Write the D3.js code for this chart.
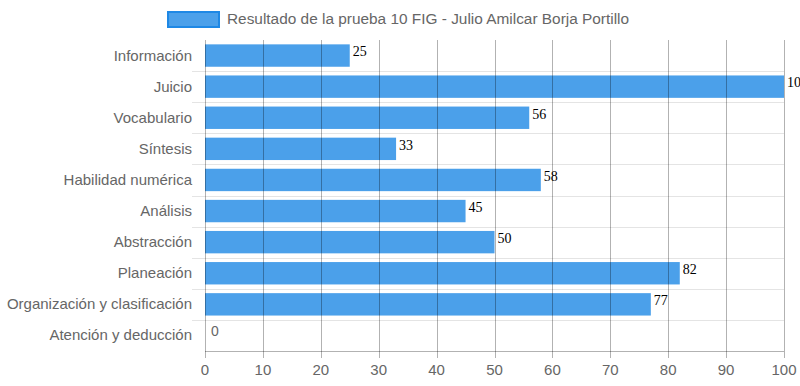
<!DOCTYPE html>
<html>
<head>
<meta charset="utf-8">
<script src="https://cdn.jsdelivr.net/npm/d3@7"></script>
<style>
  body { margin: 0; background: #fff; }
  svg { display: block; font-family: "Liberation Sans", Arial, sans-serif; }
</style>
</head>
<body>
<svg id="chart" width="800" height="386"></svg>
<script>
// datos de la prueba
const categorias = ["Información", "Juicio", "Vocabulario", "Síntesis", "Habilidad numérica",
  "Análisis", "Abstracción", "Planeación", "Organización y clasificación", "Atención y deducción"];
const valores = [25, 100, 56, 33, 58, 45, 50, 82, 77, 0];
const ticksX = [0, 10, 20, 30, 40, 50, 60, 70, 80, 90, 100];
const serie = "Resultado de la prueba 10 FIG - Julio Amilcar Borja Portillo";

const svg = d3.select("#chart");
const mIzq = 205, mDer = 784, mSup = 40, mInf = 351;

const x = d3.scaleLinear().domain([0, 100]).range([mIzq, mDer]);
const y = d3.scaleBand().domain(categorias).range([mSup, mInf]).padding(0);
const step = y.step();

// lineas horizontales entre categorias
svg.append("g").selectAll("line")
  .data(categorias.slice(1))
  .join("line")
  .attr("x1", mIzq - 13).attr("x2", mDer)
  .attr("y1", d => Math.round(y(d)) + 0.5).attr("y2", d => Math.round(y(d)) + 0.5)
  .attr("stroke", "#e4e4e4").attr("stroke-width", 1);

// barras
svg.append("g").selectAll("rect")
  .data(valores)
  .join("rect")
  .attr("x", x(0))
  .attr("y", (d, i) => y(categorias[i]) + step * 0.14)
  .attr("width", d => x(d) - x(0))
  .attr("height", step * 0.72)
  .attr("fill", "rgba(30,136,229,0.8)");

// lineas verticales (encima de las barras, se ven a traves)
svg.append("g").selectAll("line")
  .data(ticksX)
  .join("line")
  .attr("x1", d => Math.round(x(d)) + 0.5).attr("x2", d => Math.round(x(d)) + 0.5)
  .attr("y1", mSup).attr("y2", mInf + 7)
  .attr("stroke", "rgba(0,0,0,0.3)").attr("stroke-width", 1);

// eje inferior
svg.append("line")
  .attr("x1", mIzq).attr("x2", mDer)
  .attr("y1", mInf + 0.5).attr("y2", mInf + 0.5)
  .attr("stroke", "rgba(0,0,0,0.3)");

// etiquetas eje x
svg.append("g").selectAll("text")
  .data(ticksX)
  .join("text")
  .attr("x", d => x(d))
  .attr("y", 375)
  .attr("text-anchor", "middle")
  .attr("font-size", 15)
  .attr("fill", "#666")
  .text(d => d);

// etiquetas eje y
svg.append("g").selectAll("text")
  .data(categorias)
  .join("text")
  .attr("x", mIzq - 13)
  .attr("y", d => y(d) + step / 2 + 5)
  .attr("text-anchor", "end")
  .attr("font-size", 15)
  .attr("fill", "#666")
  .text(d => d);

// valores al final de cada barra
svg.append("g").selectAll("text")
  .data(valores)
  .join("text")
  .attr("x", d => x(d) + 3)
  .attr("y", (d, i) => y(categorias[i]) + step * 0.14 + 12)
  .attr("font-family", d => d === 0 ? "Liberation Sans, Arial, sans-serif" : "Liberation Serif, Times New Roman, serif")
  .attr("font-size", 14)
  .attr("fill", d => d === 0 ? "#666" : "#000")
  .attr("dx", d => d === 0 ? 3 : 0)
  .text(d => d);

// leyenda
svg.append("rect")
  .attr("x", 168).attr("y", 12)
  .attr("width", 51).attr("height", 15)
  .attr("fill", "rgba(30,136,229,0.8)")
  .attr("stroke", "#1e88e5").attr("stroke-width", 2);
svg.append("text")
  .attr("x", 227).attr("y", 24)
  .attr("font-size", 15.4)
  .attr("fill", "#666")
  .text(serie);
</script>
</body>
</html>
